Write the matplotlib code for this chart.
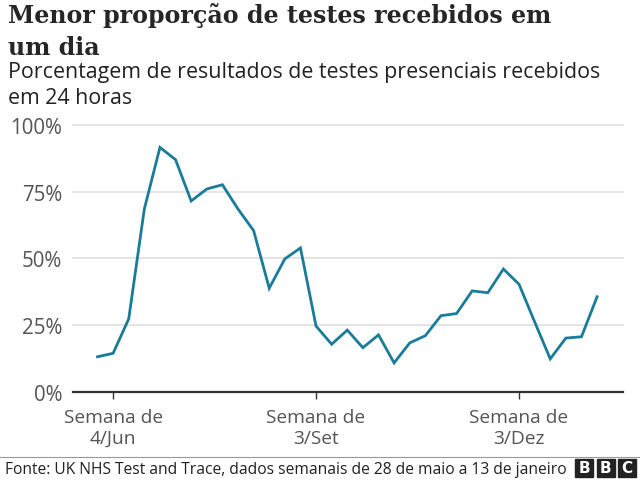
import matplotlib
matplotlib.use("Agg")
import matplotlib.pyplot as plt
from matplotlib.patches import Rectangle
from matplotlib.lines import Line2D

# Data: weekly share of in-person test results received within 24 hours (%)
weeks = list(range(33))  # weeks from 28 May to 7-13 Jan
values = [13.1, 14.4, 27.3, 68.5, 91.6, 87.0, 71.5, 76.0, 77.6, 68.5,
          60.4, 38.8, 49.8, 53.9, 24.6, 17.8, 23.1, 16.5, 21.3, 10.8,
          18.3, 21.0, 28.5, 29.3, 37.8, 37.1, 46.0, 40.3, 26.2, 12.3,
          20.1, 20.6, 35.6]
tick_positions = [1, 14, 27]
tick_labels = ["Semana de\n4/Jun", "Semana de\n3/Set", "Semana de\n3/Dez"]
y_ticks = [0, 25, 50, 75, 100]
y_labels = ["0%", "25%", "50%", "75%", "100%"]
title_lines = ["Menor proporção de testes recebidos em", "um dia"]
subtitle_lines = ["Porcentagem de resultados de testes presenciais recebidos", "em 24 horas"]
source = "Fonte: UK NHS Test and Trace, dados semanais de 28 de maio a 13 de janeiro"

W, H = 640, 481
fig = plt.figure(figsize=(W / 100, H / 100), dpi=100)
renderer = fig.canvas.get_renderer()

def fx(x):
    return x / W

def fy(y):
    return 1 - y / H

def fit(txt, target_px):
    """Scale a text's font size so that its rendered width matches target_px."""
    for _ in range(3):
        w = txt.get_window_extent(renderer).width
        txt.set_fontsize(txt.get_fontsize() * target_px / w)
    return txt.get_fontsize()

SANS = "Open Sans"

ax = fig.add_axes([fx(73.3), fy(392.7), fx(623.3) - fx(73.3), fy(126) - fy(392.7)])
ax.plot(weeks, values, color="#1a7c98", lw=2.0, solid_joinstyle="miter", zorder=3)
ax.set_xlim(-1.55, 33.68)
ax.set_ylim(0, 100)
ax.set_yticks(y_ticks)
ax.set_yticklabels(y_labels)
ax.set_xticks(tick_positions)
ax.set_xticklabels(tick_labels, linespacing=1.2)
for s in ["left", "right", "top"]:
    ax.spines[s].set_visible(False)
ax.spines["bottom"].set_color("#333333")
ax.spines["bottom"].set_linewidth(1.6)
ax.grid(axis="y", color="#dcdcdc", lw=1.1)
ax.set_axisbelow(True)
for gl in ax.get_ygridlines():
    gl.set_clip_on(False)

# size tick labels by measuring sample strings
probe = fig.text(0, 0, "100%", family=SANS, fontsize=14)
ysize = fit(probe, 52)
probe.set_text("Semana de")
xsize = fit(probe, 99)
probe.remove()

ax.tick_params(axis="y", length=0, pad=8, labelsize=ysize, labelcolor="#555555")
ax.tick_params(axis="x", length=5, width=1, color="#333333", pad=7,
               labelsize=xsize, labelcolor="#555555")
for lab in ax.get_xticklabels() + ax.get_yticklabels():
    lab.set_fontfamily(SANS)

t1 = fig.text(fx(8), fy(22.7), title_lines[0], fontsize=17, family="DejaVu Serif",
              weight="bold", color="#262626", va="baseline", ha="left")
tsize = fit(t1, 547)
fig.text(fx(8), fy(55), title_lines[1], fontsize=tsize, family="DejaVu Serif",
         weight="bold", color="#262626", va="baseline", ha="left")

s1 = fig.text(fx(8), fy(78.3), subtitle_lines[0], fontsize=14, family=SANS,
              color="#222222", va="baseline", ha="left")
ssize = fit(s1, 595)
fig.text(fx(8), fy(104), subtitle_lines[1], fontsize=ssize, family=SANS,
         color="#222222", va="baseline", ha="left")

fig.add_artist(Line2D([0, 1], [fy(458), fy(458)], color="#999999", lw=0.8,
                      transform=fig.transFigure))
f1 = fig.text(fx(5), fy(474), source, fontsize=11, family=SANS, color="#222222",
              va="baseline", ha="left")
fit(f1, 564)

for i, letter in enumerate("BBC"):
    x0 = 575 + i * 21.5
    fig.add_artist(Rectangle((fx(x0), fy(478)), fx(18), fy(460) - fy(478),
                             transform=fig.transFigure, color="#222222"))
    fig.text(fx(x0 + 9), fy(469), letter, fontsize=11, weight="bold",
             family="DejaVu Sans", color="white", ha="center", va="center")

fig.savefig("out.png", dpi=100)
